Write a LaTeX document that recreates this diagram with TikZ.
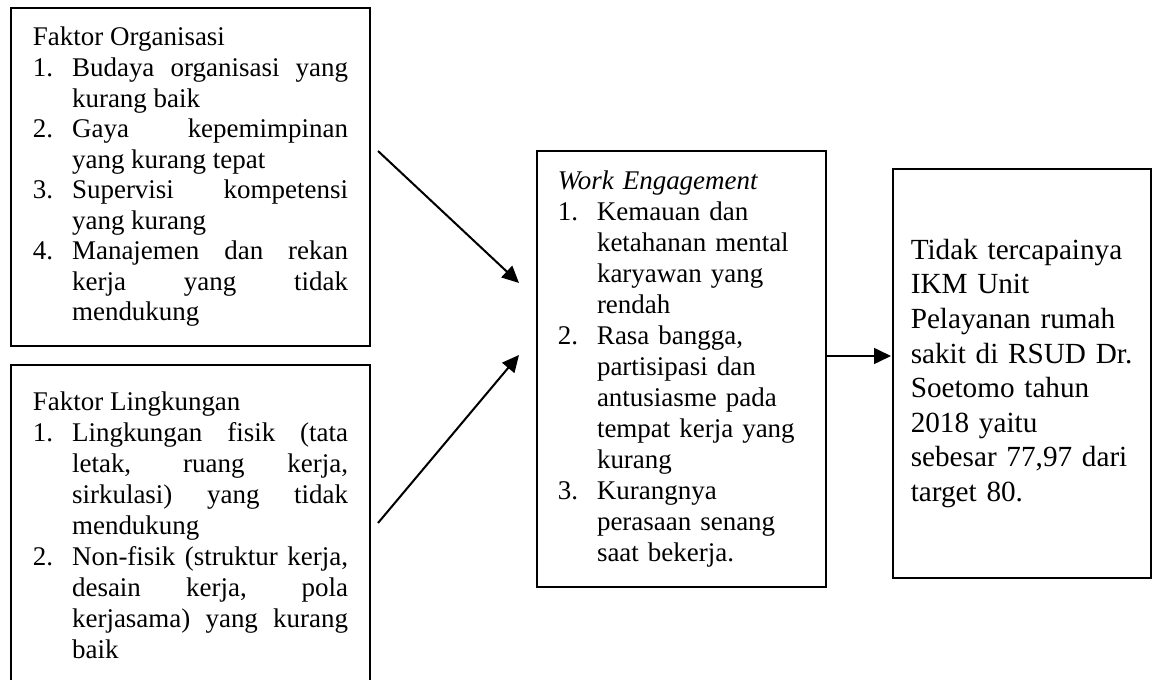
\documentclass[tikz,border=0pt]{standalone}
\usepackage{fontspec}
\setmainfont{Liberation Serif}
\usetikzlibrary{positioning}
\usetikzlibrary{calc}
\usetikzlibrary{arrows.meta}

\newlength{\indenbutir}
\setlength{\indenbutir}{17.4pt}
\newcommand{\butir}[1]{\par\noindent\hangindent=\indenbutir\hangafter=1\makebox[\indenbutir][l]{#1}}

\begin{document}
\begin{tikzpicture}[x=0.445pt,y=-0.445pt,
kotak/.style={draw,line width=1.1pt,inner sep=0pt,font=\fontsize{12pt}{13.8pt}\selectfont},
panah/.style={line width=0.9pt,-{Triangle[length=7.5pt,width=7pt]}}]
\useasboundingbox (0,0) rectangle (1152,680);

\node[kotak,minimum width=159.8pt,minimum height=150.4pt,text width=140.2pt,align=justify,font=\fontsize{12pt}{13.6pt}\selectfont](org) at (190.5,177){\noindent Faktor Organisasi
\butir{1.}Budaya organisasi yang\linebreak kurang baik
\butir{2.}Gaya kepemimpinan\linebreak yang kurang tepat
\butir{3.}Supervisi kompetensi\linebreak yang kurang
\butir{4.}Manajemen dan rekan\linebreak kerja yang tidak\linebreak mendukung\par};
\node[kotak,minimum width=159.8pt,minimum height=142.4pt,text width=140.2pt,align=justify](ling) at (190.5,525){\noindent Faktor Lingkungan
\butir{1.}Lingkungan fisik (tata\linebreak letak, ruang kerja,\linebreak sirkulasi) yang tidak\linebreak mendukung
\butir{2.}Non-fisik (struktur kerja,\linebreak desain kerja, pola\linebreak kerjasama) yang kurang\linebreak baik\par};
\node[kotak,minimum width=128.6pt,minimum height=194pt,text width=110pt,align=left](work) at (681.5,369){\noindent\textit{Work Engagement}
\butir{1.}Kemauan dan\newline ketahanan mental\newline karyawan yang\newline rendah
\butir{2.}Rasa bangga,\newline partisipasi dan\newline antusiasme pada\newline tempat kerja yang\newline kurang
\butir{3.}Kurangnya\newline perasaan senang\newline saat bekerja.\par\vspace*{5.8pt}};
\node[kotak,minimum width=114.8pt,minimum height=182pt,text width=99pt,align=left,font=\fontsize{13pt}{15.4pt}\selectfont](ikm) at (1022,373.5){Tidak tercapainya\newline IKM Unit\newline Pelayanan rumah\newline sakit di RSUD Dr.\newline Soetomo tahun\newline 2018 yaitu\newline sebesar 77,97 dari\newline target 80.};

\coordinate (startOrg) at (378,151);
\coordinate (endOrg) at (519,283);
\coordinate (startLing) at (378,523);
\coordinate (endLing) at (519,355);
\coordinate (endWork) at (891,356);

\path
(startOrg) edge[panah] (endOrg)
(startLing) edge[panah] (endLing)
(work.east |- endWork) edge[panah] (endWork);
\end{tikzpicture}
\end{document}
